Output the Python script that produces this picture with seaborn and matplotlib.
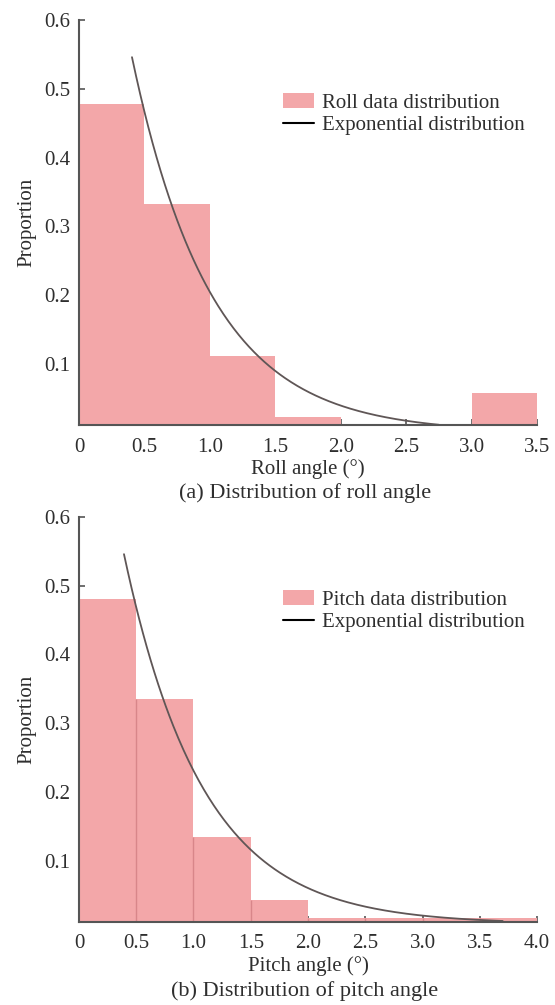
import numpy as np
import pandas as pd
import matplotlib
matplotlib.use("Agg")
import matplotlib.pyplot as plt
import seaborn as sns

# Roll angle histogram (proportion per 0.5 degree bin)
roll_edges = [0.0, 0.5, 1.0, 1.5, 2.0, 2.5, 3.0, 3.5]
roll_props = [0.478, 0.332, 0.112, 0.022, 0.0, 0.0, 0.058]

# Pitch angle histogram (proportion per 0.5 degree bin)
pitch_edges = [0.0, 0.5, 1.0, 1.5, 2.0, 2.5, 3.0, 3.5, 4.0]
pitch_props = [0.481, 0.336, 0.135, 0.0435, 0.017, 0.017, 0.017, 0.017]

# Fitted exponential curves: amplitude * exp(-rate * x) + offset over [x_start, x_end]
roll_fit = dict(amplitude=1.065, rate=1.65, offset=0.0, x_start=0.405, x_end=2.75)
pitch_fit = dict(amplitude=0.951, rate=1.45, offset=0.008, x_start=0.393, x_end=3.70)

roll_xticks = [0, 0.5, 1.0, 1.5, 2.0, 2.5, 3.0, 3.5]
roll_xticklabels = ["0", "0.5", "1.0", "1.5", "2.0", "2.5", "3.0", "3.5"]
pitch_xticks = [0, 0.5, 1.0, 1.5, 2.0, 2.5, 3.0, 3.5, 4.0]
pitch_xticklabels = ["0", "0.5", "1.0", "1.5", "2.0", "2.5", "3.0", "3.5", "4.0"]
yticks = [0.1, 0.2, 0.3, 0.4, 0.5, 0.6]
yticklabels = ["0.1", "0.2", "0.3", "0.4", "0.5", "0.6"]

BAR_COLOR = "#F3A7A9"
SEP_COLOR = "#D8868A"
CURVE_COLOR = "#5f5656"
SPINE_COLOR = "#555555"
TEXT_COLOR = "#2e2e2e"
FIT_LABEL = "Exponential distribution"

sns.set_theme(style="ticks")
plt.rcParams["font.family"] = ["Liberation Serif", "DejaVu Serif"]

fig = plt.figure(figsize=(5.55, 10.05), dpi=100)
ax_top = fig.add_axes([0.1423, 0.5771, 0.8253, 0.403])
ax_bot = fig.add_axes([0.1423, 0.0826, 0.8253, 0.403])


def draw_panel(ax, edges, props, fit, xticks, xticklabels, xlabel, hist_label,
               separators):
    edge_arr = np.asarray(edges, dtype=float)
    prop_arr = np.asarray(props, dtype=float)
    table = pd.DataFrame({
        "angle": (edge_arr[:-1] + edge_arr[1:]) / 2,
        "proportion": prop_arr,
    })
    sns.histplot(data=table, x="angle", weights="proportion", bins=list(edges),
                 stat="count", color=BAR_COLOR, alpha=1.0, linewidth=0,
                 edgecolor="none", label=hist_label, ax=ax)
    if separators:
        inner = edge_arr[1:-1]
        heights = np.minimum(prop_arr[:-1], prop_arr[1:])
        ax.vlines(inner, 0, heights, color=SEP_COLOR, linewidth=1.0, zorder=2)

    xs = np.linspace(fit["x_start"], fit["x_end"], 300)
    ys = fit["amplitude"] * np.exp(-fit["rate"] * xs) + fit["offset"]
    sns.lineplot(x=xs, y=ys, color=CURVE_COLOR, linewidth=1.3, ax=ax,
                 label="_curve")
    ax.plot([], [], color="black", linewidth=1.5, label=FIT_LABEL)

    ax.set_xlim(edges[0], edges[-1])
    ax.set_ylim(0.011, 0.6)
    ax.set_xticks(xticks)
    ax.set_xticklabels(xticklabels)
    ax.set_yticks(yticks)
    ax.set_yticklabels(yticklabels)
    ax.tick_params(direction="in", length=4, width=1.2, colors=SPINE_COLOR,
                   labelcolor=TEXT_COLOR, labelsize=15, pad=6)
    ax.tick_params(axis="x", pad=9)
    for side in ("top", "right"):
        ax.spines[side].set_visible(False)
    for side in ("left", "bottom"):
        ax.spines[side].set_color(SPINE_COLOR)
        ax.spines[side].set_linewidth(1.5)
    ax.set_xlabel(xlabel, fontsize=15, color=TEXT_COLOR, labelpad=2)
    ax.set_ylabel("Proportion", fontsize=15, color=TEXT_COLOR)
    ax.yaxis.set_label_coords(-0.092, 0.5)

    handles, labels = ax.get_legend_handles_labels()
    lookup = dict(zip(labels, handles))
    order = [hist_label, FIT_LABEL]
    ax.legend([lookup[l] for l in order], order, loc="upper left",
              bbox_to_anchor=(0.4225, 0.845), frameon=False, fontsize=15,
              borderpad=0, handlelength=1.5, handletextpad=0.4,
              labelspacing=0.15, labelcolor=TEXT_COLOR)


draw_panel(ax_top, roll_edges, roll_props, roll_fit, roll_xticks,
           roll_xticklabels, "Roll angle (°)", "Roll data distribution", False)
draw_panel(ax_bot, pitch_edges, pitch_props, pitch_fit, pitch_xticks,
           pitch_xticklabels, "Pitch angle (°)", "Pitch data distribution", True)

fig.text(0.549, 1 - 493 / 1005, "(a) Distribution of roll angle",
         ha="center", va="center", fontsize=16, color=TEXT_COLOR)
fig.text(0.549, 1 - 991 / 1005, "(b) Distribution of pitch angle",
         ha="center", va="center", fontsize=16, color=TEXT_COLOR)

fig.savefig("out.png", dpi=100)
